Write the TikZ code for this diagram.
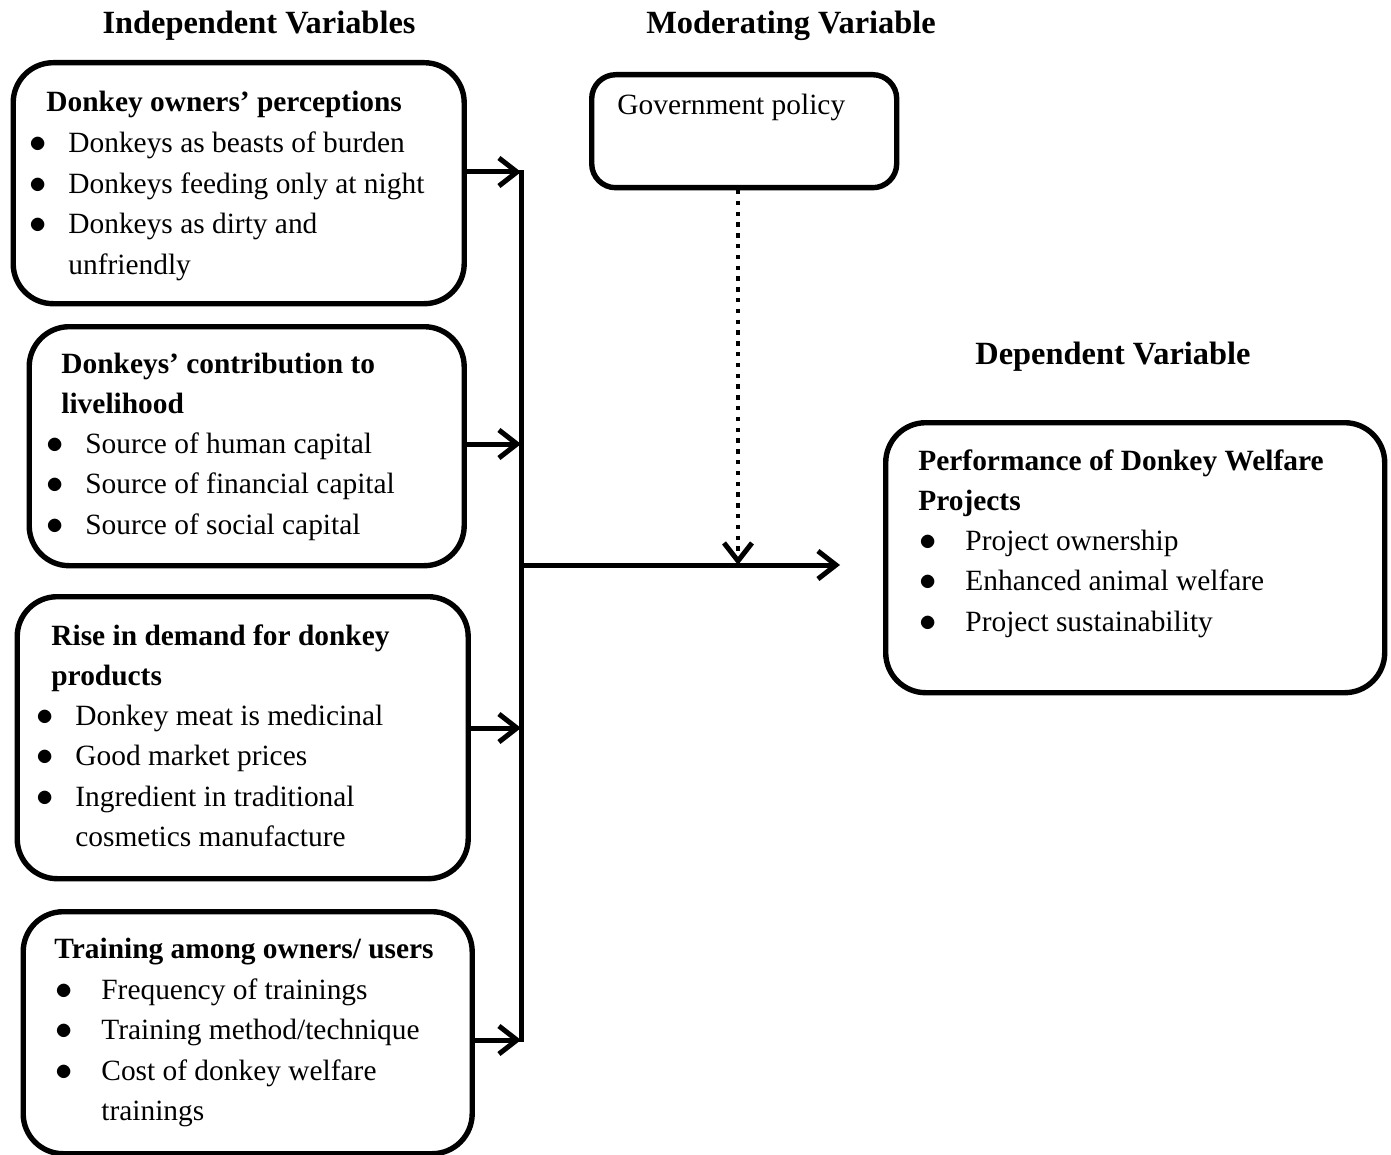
\documentclass[tikz,border=0pt]{standalone}
\usepackage{fontspec}
\setmainfont{Liberation Serif}
\usepackage{tikz}
\usetikzlibrary{arrows.meta, positioning}
\newcommand{\pt}[1]{\makebox[0pt]{\fontsize{17}{17}\selectfont$\bullet$} & #1\\}

\begin{document}
\begin{tikzpicture}[
				x=0.5pt, y=-0.5pt,
				>={Straight Barb[length=9pt, width=14pt, line width=2.5pt]},
				font=\fontsize{14.7}{20.25}\selectfont,
				varbox/.style={draw, line width=2.7pt, rounded corners=20pt, anchor=north west, inner sep=0pt},
				txt/.style={anchor=base west, inner sep=0pt, align=left},
				head/.style={anchor=base, inner sep=0pt, font=\fontsize{16.2}{20.25}\selectfont\bfseries},
				flow/.style={->, line width=2.5pt},
				dots/.style={->, line width=2.2pt, dash pattern=on 2.2pt off 3.2pt}]

			\useasboundingbox (0,0) rectangle (1391,1155);

			% headings
			\node[head] (hind) at (259,34) {Independent Variables};
			\node[head] (hmod) at (791,34) {Moderating Variable};
			\node[head] (hdep) at (1113,364) {Dependent Variable};

			% boxes
			\node[varbox, minimum width=225.5pt, minimum height=120.5pt] (perc) at (10.5,60) {};
			\node[varbox, minimum width=217.5pt, minimum height=119.5pt] (live) at (26.5,324) {};
			\node[varbox, minimum width=225.5pt, minimum height=141pt] (dem) at (14.5,594) {};
			\node[varbox, minimum width=224.5pt, minimum height=121pt] (train) at (20.5,909) {};
			\node[varbox, rounded corners=12pt, minimum width=152.5pt, minimum height=56.5pt] (gov) at (589,72) {};
			\node[varbox, minimum width=249.5pt, minimum height=135pt] (dep) at (883,420) {};

			% texts
			\node[txt] (perc title) at (46,112) {\textbf{Donkey owners’ perceptions}};
			\node[txt] (perc list) at (38,153) {\begin{tabular}[t]{@{}p{15pt}@{}l@{}}
				\pt{Donkeys as beasts of burden}
				\pt{Donkeys feeding only at night}
				\pt{Donkeys as dirty and}
				& unfriendly
			\end{tabular}};

			\node[txt] (live title) at (61,373) {\begin{tabular}[t]{@{}l@{}}
				\textbf{Donkeys’ contribution to}\\
				\textbf{livelihood}
			\end{tabular}};
			\node[txt] (live list) at (55,453) {\begin{tabular}[t]{@{}p{15pt}@{}l@{}}
				\pt{Source of human capital}
				\pt{Source of financial capital}
				\pt{Source of social capital}
			\end{tabular}};

			\node[txt] (dem title) at (51,645) {\begin{tabular}[t]{@{}l@{}}
				\textbf{Rise in demand for donkey}\\
				\textbf{products}
			\end{tabular}};
			\node[txt] (dem list) at (45,725) {\begin{tabular}[t]{@{}p{15pt}@{}l@{}}
				\pt{Donkey meat is medicinal}
				\pt{Good market prices}
				\pt{Ingredient in traditional}
				& cosmetics manufacture
			\end{tabular}};

			\node[txt] (train title) at (54,958) {\textbf{Training among owners/ users}};
			\node[txt] (train list) at (64,999) {\begin{tabular}[t]{@{}p{18.5pt}@{}l@{}}
				\pt{Frequency of trainings}
				\pt{Training method/technique}
				\pt{Cost of donkey welfare}
				& trainings
			\end{tabular}};

			\node[txt] (gov title) at (617,115) {Government policy};

			\node[txt] (dep title) at (918,470) {\begin{tabular}[t]{@{}l@{}}
				\textbf{Performance of Donkey Welfare}\\
				\textbf{Projects}
			\end{tabular}};
			\node[txt] (dep list) at (928,550) {\begin{tabular}[t]{@{}p{18.5pt}@{}l@{}}
				\pt{Project ownership}
				\pt{Enhanced animal welfare}
				\pt{Project sustainability}
			\end{tabular}};

			% connectors
			\coordinate (bustop) at (521,170);
			\coordinate (busbot) at (521,1042);
			\coordinate (busmid) at (521,565);
			\coordinate (into) at (840,565);
			\coordinate (modin) at (738,190);

			\draw[line width=2.5pt] (bustop) -- (busbot);
			\draw[flow] (perc.east |- 0,172) -- (bustop |- 0,172);
			\draw[flow] (live.east |- 0,444) -- (bustop |- 0,444);
			\draw[flow] (dem.east |- 0,728) -- (bustop |- 0,728);
			\draw[flow] (train.east |- 0,1040) -- (bustop |- 0,1040);
			\draw[flow] (busmid) -- (into);
			\draw[dots] (modin) -- (modin |- busmid);

		\end{tikzpicture}
\end{document}
